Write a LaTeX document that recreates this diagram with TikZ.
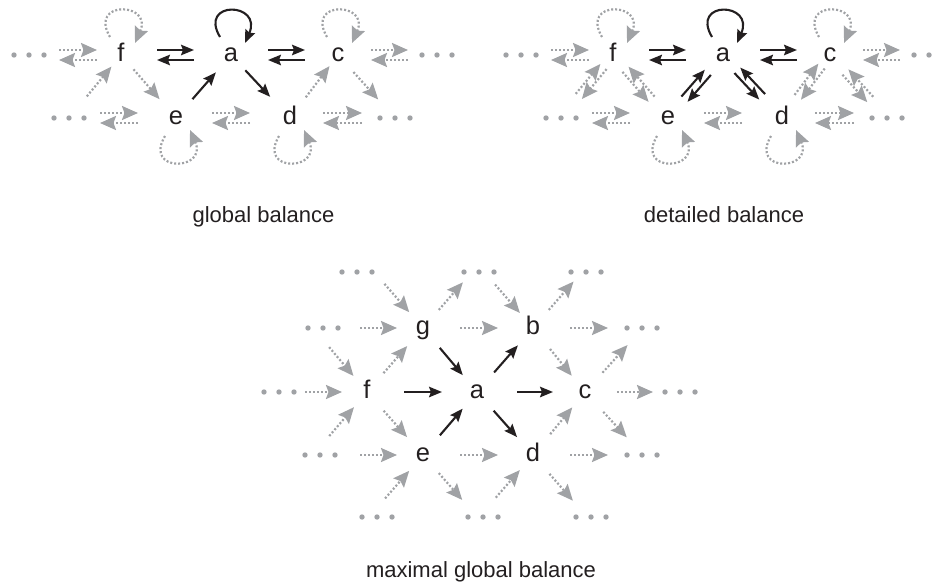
\documentclass[tikz,border=0pt]{standalone}
\usepackage{fontspec}
\setmainfont{Liberation Sans}
\usetikzlibrary{arrows.meta,calc}
\definecolor{gcol}{RGB}{160,162,165}
\definecolor{ink}{RGB}{35,31,32}
\tikzset{
  lett/.style={font=\fontsize{25.5}{25.5}\selectfont, text height=13.2pt, text depth=0pt, inner sep=0pt, text=ink},
  blk/.style={draw=ink, line width=2.1pt, -{Stealth[length=13pt,width=10.5pt,inset=2pt]}},
  gry/.style={draw=gcol, line width=2.2pt, dash pattern=on 2pt off 2pt, -{Stealth[length=16pt,width=14pt,inset=2.5pt,fill=gcol]}},
  lab/.style={font=\fontsize{22}{22}\selectfont, anchor=base, inner sep=0pt, text=ink},
  dotn/.style={inner sep=0pt, minimum size=0pt},
}
\newcommand\myar[5][]{\draw[#1] ($(#2)!#4!(#3)$) -- ($(#3)!#5!(#2)$);}
\newcommand\mypr[6][]{%
  \path ($(#2)!#4!(#3)$) coordinate (pS) ($(#3)!#5!(#2)$) coordinate (pE);
  \draw[#1] ($(pS)!#6!90:(pE)$) -- ($(pE)!#6!-90:(pS)$);
  \draw[#1] ($(pE)!#6!90:(pS)$) -- ($(pS)!#6!-90:(pE)$);}
\newcommand\lpa[2][]{\draw[#1] ($(#2)+(-11,-18)$) .. controls +(-22,-37) and +(18,-41) .. ($(#2)+(14,-12)$);}
\newcommand\lpb[2][]{\draw[#1] ($(#2)+(-11,18)$) .. controls +(-22,37) and +(18,41) .. ($(#2)+(14,12)$);}
\newcommand\dotgrp[3]{\node[dotn] (#1) at (#2,#3) {};
  \fill[gcol] (#1) ++(-15,0) circle[radius=2.7] ++(15,0) circle[radius=2.7] ++(15,0) circle[radius=2.7];}
\begin{document}
\begin{tikzpicture}[x=1pt,y=-1pt]
\useasboundingbox (0,0) rectangle (939,583);
% ---------------- panel 1: global balance
\node[lett] (f1) at (121,55) {f};
\node[lett] (a1) at (231,55) {a};
\node[lett] (c1) at (338,55) {c};
\node[lett] (e1) at (176,118) {e};
\node[lett] (d1) at (290,118) {d};
\dotgrp{L1a}{29}{55} \dotgrp{L1b}{69}{118} \dotgrp{R1a}{437}{55} \dotgrp{R1b}{395}{118}
\mypr[gry]{L1a}{f1}{30pt}{24pt}{5pt}
\mypr[blk]{f1}{a1}{36pt}{37pt}{5pt}
\mypr[blk]{a1}{c1}{37pt}{33pt}{5pt}
\mypr[gry]{c1}{R1a}{33pt}{29pt}{5pt}
\mypr[gry]{L1b}{e1}{31pt}{38pt}{5pt}
\mypr[gry]{e1}{d1}{36pt}{40pt}{5pt}
\mypr[gry]{d1}{R1b}{33pt}{33pt}{5pt}
\myar[gry]{L1b}{f1}{28pt}{15pt}
\myar[gry]{f1}{e1}{19pt}{25pt}
\myar[blk]{e1}{a1}{25pt}{23pt}
\myar[blk]{a1}{d1}{21pt}{29pt}
\myar[gry]{d1}{c1}{26pt}{14pt}
\myar[gry]{c1}{R1b}{23pt}{25pt}
\lpa[gry]{f1} \lpa[blk]{a1} \lpa[gry]{c1} \lpb[gry]{e1} \lpb[gry]{d1}
\node[lab] (lab1) at (263.5,222) {global balance};
% ---------------- panel 2: detailed balance
\node[lett] (f2) at (613,55) {f};
\node[lett] (a2) at (723,55) {a};
\node[lett] (c2) at (830,55) {c};
\node[lett] (e2) at (668,118) {e};
\node[lett] (d2) at (782,118) {d};
\dotgrp{L2a}{521}{55} \dotgrp{L2b}{561}{118} \dotgrp{R2a}{929}{55} \dotgrp{R2b}{887}{118}
\mypr[gry]{L2a}{f2}{30pt}{24pt}{5pt}
\mypr[blk]{f2}{a2}{36pt}{37pt}{5pt}
\mypr[blk]{a2}{c2}{37pt}{33pt}{5pt}
\mypr[gry]{c2}{R2a}{33pt}{29pt}{5pt}
\mypr[gry]{L2b}{e2}{31pt}{38pt}{5pt}
\mypr[gry]{e2}{d2}{36pt}{40pt}{5pt}
\mypr[gry]{d2}{R2b}{33pt}{33pt}{5pt}
\mypr[gry]{L2b}{f2}{28pt}{15pt}{4pt}
\mypr[gry]{f2}{e2}{19pt}{25pt}{-4pt}
\mypr[blk]{e2}{a2}{25pt}{23pt}{4pt}
\mypr[blk]{a2}{d2}{21pt}{29pt}{-4pt}
\mypr[gry]{d2}{c2}{26pt}{14pt}{4pt}
\mypr[gry]{c2}{R2b}{23pt}{25pt}{-4pt}
\lpa[gry]{f2} \lpa[blk]{a2} \lpa[gry]{c2} \lpb[gry]{e2} \lpb[gry]{d2}
\node[lab] (lab2) at (724,222) {detailed balance};
% ---------------- panel 3: maximal global balance
\node[lett] (g) at (423,328) {g};
\node[lett] (b) at (533,328) {b};
\node[lett] (f) at (367,392) {f};
\node[lett] (a) at (477,392) {a};
\node[lett] (c) at (585,392) {c};
\node[lett] (e) at (423,455) {e};
\node[lett] (d) at (533,455) {d};
\coordinate (to1) at (368,265); \coordinate (to2) at (478,265); \coordinate (to3) at (588,265);
\coordinate (lg) at (313,328); \coordinate (rb) at (643,328);
\coordinate (lf) at (257,392); \coordinate (rc) at (695,392);
\coordinate (le) at (313,455); \coordinate (rd) at (643,455);
\coordinate (bo1) at (368,518); \coordinate (bo2) at (478,518); \coordinate (bo3) at (588,518);
\dotgrp{DT1}{357}{272} \dotgrp{DT2}{479}{272} \dotgrp{DT3}{586}{272}
\dotgrp{DLg}{323}{328} \dotgrp{DRb}{642}{328}
\dotgrp{DLf}{279}{392} \dotgrp{DRc}{680}{392}
\dotgrp{DLe}{320}{455} \dotgrp{DRd}{642}{455}
\dotgrp{DB1}{377}{517} \dotgrp{DB2}{483}{517} \dotgrp{DB3}{591}{517}
% horizontals
\myar[gry]{lg}{g}{47pt}{26pt}
\myar[gry]{g}{b}{37pt}{35pt}
\myar[gry]{b}{rb}{37pt}{35pt}
\myar[gry]{lf}{f}{48pt}{25pt}
\myar[blk]{f}{a}{37pt}{35pt}
\myar[blk]{a}{c}{40pt}{32pt}
\myar[gry]{c}{rc}{32pt}{42pt}
\myar[gry]{le}{e}{47pt}{26pt}
\myar[gry]{e}{d}{37pt}{35pt}
\myar[gry]{d}{rd}{37pt}{35pt}
% diagonals
\myar[gry]{to1}{g}{25pt}{21pt}
\myar[gry]{g}{to2}{24pt}{23pt}
\myar[gry]{to2}{b}{26pt}{20pt}
\myar[gry]{b}{to3}{24pt}{22pt}
\myar[gry]{lg}{f}{25pt}{21pt}
\myar[gry]{f}{g}{25pt}{24pt}
\myar[blk]{g}{a}{26pt}{22pt}
\myar[blk]{a}{b}{26pt}{23pt}
\myar[gry]{b}{c}{27pt}{21pt}
\myar[gry]{c}{rb}{26pt}{23pt}
\myar[gry]{le}{f}{25pt}{20pt}
\myar[gry]{f}{e}{25pt}{24pt}
\myar[blk]{e}{a}{26pt}{22pt}
\myar[blk]{a}{d}{25pt}{24pt}
\myar[gry]{d}{c}{27pt}{20pt}
\myar[gry]{c}{rd}{27pt}{24pt}
\myar[gry]{bo1}{e}{26pt}{21pt}
\myar[gry]{e}{bo2}{24pt}{24pt}
\myar[gry]{bo2}{d}{27pt}{20pt}
\myar[gry]{d}{bo3}{25pt}{23pt}
\node[lab] (lab3) at (481,577) {maximal global balance};
\end{tikzpicture}
\end{document}
